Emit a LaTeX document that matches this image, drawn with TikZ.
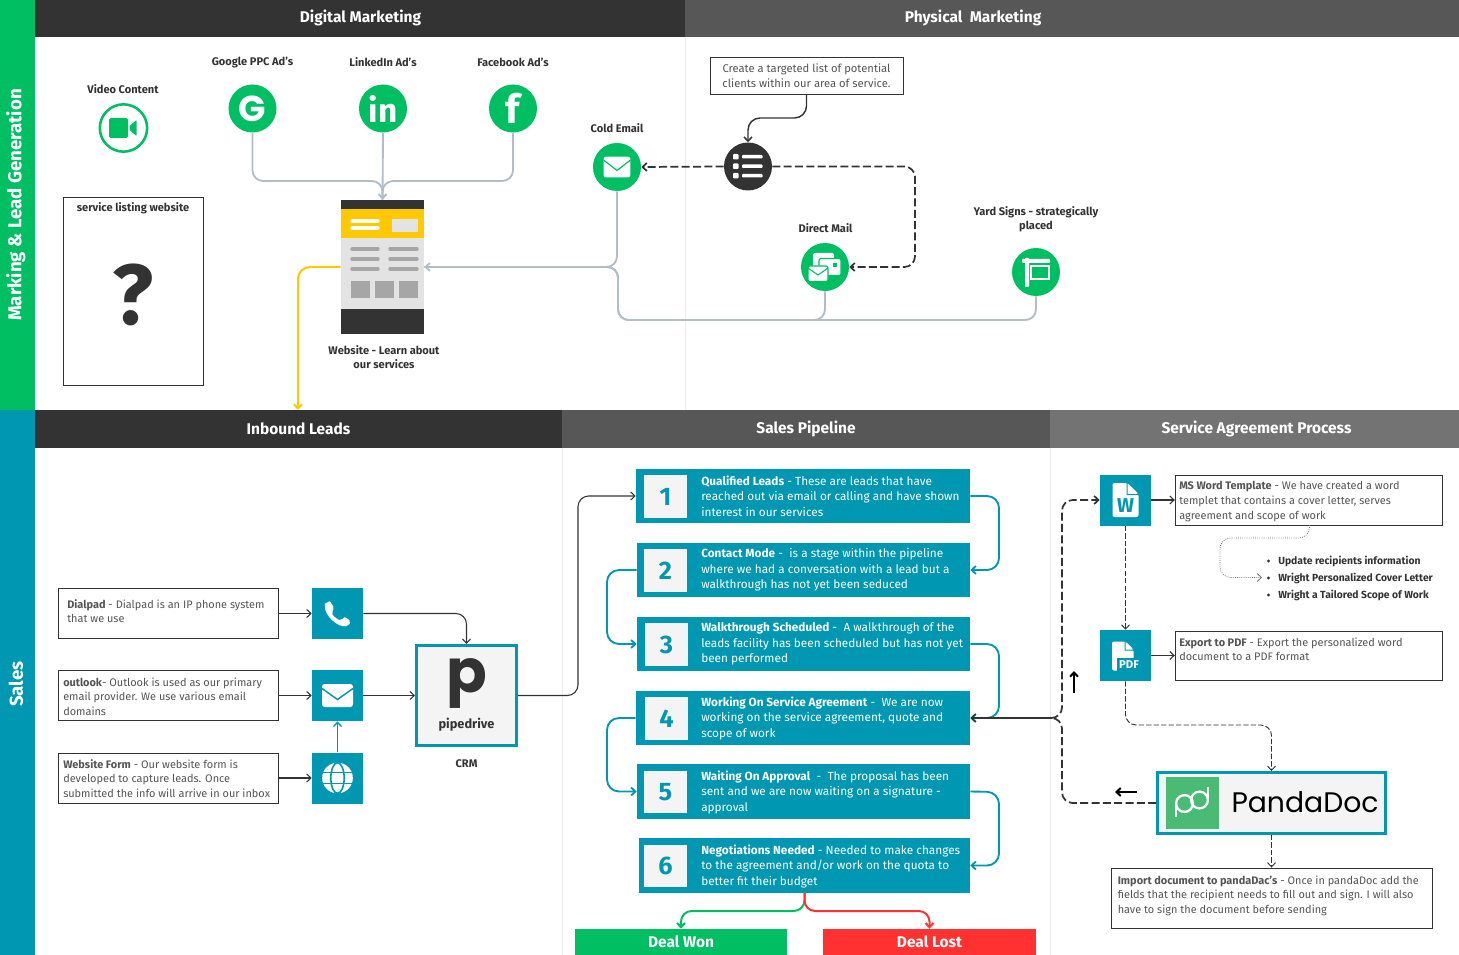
\documentclass[tikz,border=0pt]{standalone}
\usepackage{fontspec}
\setmainfont{Fira Sans}
\newfontfamily\logofont{Poppins}
\usetikzlibrary{arrows.meta}
\definecolor{mkgreen}{HTML}{00BF63}
\definecolor{saleteal}{HTML}{0097B2}
\definecolor{darkbar}{HTML}{333333}
\definecolor{midbar}{HTML}{575757}
\definecolor{lightbar}{HTML}{737373}
\definecolor{wireline}{HTML}{B2BDC6}
\definecolor{webyellow}{HTML}{FFC800}
\definecolor{webgrey}{HTML}{E3E3E3}
\definecolor{dealred}{HTML}{FF3131}
\definecolor{softtext}{HTML}{555555}
\definecolor{logogrey}{HTML}{F4F4F4}
\definecolor{pandagreen}{HTML}{4ABB74}
\tikzset{
  >={Straight Barb[length=3.2pt,width=6pt]},
  headtext/.style={text=white, font=\fontsize{11.6}{13}\selectfont\bfseries},
  sidetext/.style={text=white, rotate=90, font=\fontsize{14}{16}\selectfont\bfseries},
  namelabel/.style={text=darkbar, align=center, font=\fontsize{8.3}{10.6}\selectfont\bfseries},
  todolabel/.style={text=darkbar, anchor=west, inner sep=0pt, font=\fontsize{7.75}{10}\selectfont\bfseries},
  greencirc/.style={circle, fill=mkgreen, minimum size=36pt, inner sep=0pt, text=white},
  infobox/.style={draw=darkbar, line width=.7pt, fill=white, inner sep=0pt},
  infotext/.style={text=softtext, anchor=west, align=left, inner sep=0pt, font=\fontsize{8.2}{10.9}\selectfont},
  tealsq/.style={fill=saleteal, minimum size=38.25pt, inner sep=0pt},
  stepbox/.style={fill=saleteal, minimum height=40.5pt, inner sep=0pt},
  steptext/.style={text=white, anchor=west, align=left, inner sep=0pt, font=\fontsize{8.85}{11.6}\selectfont},
  numbox/.style={fill=logogrey, minimum size=32pt, inner sep=0pt, text=saleteal, font=\fontsize{19}{20}\selectfont\bfseries},
  logobox/.style={draw=saleteal, line width=2.25pt, fill=logogrey, inner sep=0pt},
  dealbox/.style={minimum height=19.5pt, inner sep=0pt, text=white, font=\fontsize{11.6}{13}\selectfont\bfseries},
  mockline/.style={draw=black!35, line width=2.6pt, line cap=round},
  wire/.style={draw=wireline, line width=1.4pt, rounded corners=8pt},
  dashwire/.style={draw=darkbar, line width=1.3pt, dash pattern=on 6pt off 2.5pt, rounded corners=8pt},
  thinwire/.style={draw=darkbar, line width=.8pt, rounded corners=8pt},
  thindash/.style={draw=darkbar, line width=.7pt, dash pattern=on 4pt off 1.6pt, rounded corners=8pt},
  tealwire/.style={draw=saleteal, line width=1.4pt, rounded corners=9pt},
}
\begin{document}
\begin{tikzpicture}[x=.75pt, y=-.75pt]
  \useasboundingbox (0,0) rectangle (1459,955);
  % bands and headers
  \fill[mkgreen] (0,0) rectangle (35,410);
  \fill[saleteal] (0,410) rectangle (35,955);
  \fill[darkbar] (35,0) rectangle (685,37);
  \fill[midbar] (685,0) rectangle (1459,37);
  \fill[darkbar] (35,410) rectangle (562,448);
  \fill[midbar] (562,410) rectangle (1050,448);
  \fill[lightbar] (1050,410) rectangle (1459,448);
  \draw[black!8] (685,37) -- (685,410);
  \draw[black!8] (562,448) -- (562,955);
  \draw[black!8] (1050,448) -- (1050,955);
  \node[sidetext] (leadgen) at (16,205) {Marking \& Lead Generation};
  \node[sidetext] (sales) at (16,684) {Sales};
  \node[headtext] (digital) at (360.5,17.5) {Digital Marketing};
  \node[headtext] (physical) at (973,17.5) {Physical\ \ Marketing};
  \node[headtext] (inbound) at (298.5,429) {Inbound Leads};
  \node[headtext] (pipeline) at (806,429) {Sales Pipeline};
  \node[headtext] (agreement) at (1256.5,429) {Service Agreement Process};

  % marketing, top left
  \node[namelabel] (videolab) at (123,89.5) {Video Content};
  \node[namelabel] (googlelab) at (252.5,62.5) {Google PPC Ad’s};
  \node[namelabel] (linkedlab) at (383,62.5) {LinkedIn Ad’s};
  \node[namelabel] (facelab) at (513,62.5) {Facebook Ad’s};
  \node[circle, draw=mkgreen, line width=1.9pt, minimum size=35.5pt, inner sep=0pt] (video) at (123.5,128) {};
  \begin{scope}[shift={(123.5,128)}]
    \fill[mkgreen, rounded corners=1.2pt] (-14.5,-10) rectangle (4.5,10);
    \fill[mkgreen, rounded corners=.6pt] (6,-2) -- (13,-8) -- (13,8) -- (6,2) -- cycle;
  \end{scope}
  \node[greencirc, font=\logofont\fontsize{27}{28}\selectfont\bfseries] (google) at (252.5,108.5) {G};
  \node[greencirc, font=\fontsize{25}{26}\selectfont\bfseries] (linkedin) at (383,108.5) {in};
  \node[greencirc, font=\fontsize{30}{30}\selectfont\bfseries] (facebook) at (513,108.5) {f};

  \node[infobox, minimum width=105pt, minimum height=141pt] (listing) at (133,291) {};
  \node[namelabel] (listinglab) at (133,208) {service listing website};
  \node[text=darkbar, font=\fontsize{64}{64}\selectfont\bfseries] (question) at (133,295) {?};

  % website mock up
  \node[fill=webgrey, minimum width=62.25pt, minimum height=100.5pt, inner sep=0pt] (website) at (382.5,267) {};
  \fill[darkbar] (341,200) rectangle (424,209.5);
  \fill[webyellow] (341,209.5) rectangle (424,238);
  \fill[darkbar] (341,309) rectangle (424,334);
  \fill[webgrey] (392,219) rectangle (418,232);
  \draw[mockline, draw=white] (352,221) -- (378,221);
  \draw[mockline, draw=white] (352,228) -- (378,228);
  \draw[mockline] (352,249) -- (378,249);
  \draw[mockline] (352,259) -- (378,259);
  \draw[mockline] (352,269) -- (378,269);
  \draw[mockline] (390,249) -- (417,249);
  \draw[mockline] (390,259) -- (417,259);
  \draw[mockline] (390,269) -- (417,269);
  \fill[black!35] (351,281) rectangle (370,298);
  \fill[black!35] (374.5,281) rectangle (393.5,298);
  \fill[black!35] (399,281) rectangle (418,298);
  \node[namelabel] (websitelab) at (384,357.5) {Website - Learn about\\our services};

  \coordinate (adjoin) at (382.5,181);
  \draw[wire] (google.south) |- (adjoin) -- (website.north);
  \draw[wire] (facebook.south) |- (adjoin) -- (website.north);
  \draw[wire, ->] (linkedin.south) -- (website.north);
  \coordinate (leadsdrop) at (298,410);
  \draw[draw=webyellow, line width=1.5pt, rounded corners=9pt, ->] (website.west) -| (leadsdrop);

  % marketing, right part
  \node[infobox, minimum width=144.75pt, minimum height=27.75pt, text=softtext, align=center, font=\fontsize{8.4}{10.9}\selectfont] (targeted) at (806.5,75.5) {Create a targeted list of potential\\clients within our area of service.};
  \node[namelabel] (coldlab) at (617,128.5) {Cold Email};
  \node[greencirc] (coldmail) at (617,167) {};
  \begin{scope}[shift={(617,167)}, scale=.87]
    \fill[white, rounded corners=2pt] (-15.5,-12) rectangle (15.5,12);
    \draw[mkgreen, line width=.9pt] (-15.5,-8) -- (0,4) -- (15.5,-8);
  \end{scope}
  \node[greencirc, fill=darkbar] (tasklist) at (748,166.5) {};
  \begin{scope}[shift={(748,166.5)}]
    \fill[white, rounded corners=.6pt] (-15,-12.5) rectangle (-9.5,-7);
    \fill[white, rounded corners=.6pt] (-15,-3) rectangle (-9.5,2.5);
    \fill[white, rounded corners=.6pt] (-15,6.5) rectangle (-9.5,12);
    \fill[white, rounded corners=.6pt] (-6,-11.5) rectangle (14.5,-8);
    \fill[white, rounded corners=.6pt] (-6,-2) rectangle (14.5,1.5);
    \fill[white, rounded corners=.6pt] (-6,7.5) rectangle (14.5,11);
  \end{scope}
  \node[namelabel] (directlab) at (825.5,228.5) {Direct Mail};
  \node[greencirc] (directmail) at (825,267) {};
  \begin{scope}[shift={(825,267)}]
    \fill[white, rounded corners=1.5pt] (-12,-14) rectangle (9,3);
    \draw[mkgreen, fill=white, line width=.8pt, rounded corners=1.5pt] (-6,-8.5) rectangle (16,8.5);
    \fill[mkgreen] (8,-4) rectangle (12,0);
    \draw[mkgreen, fill=white, line width=.8pt, rounded corners=1.5pt] (-17,-1) rectangle (3,14.5);
    \draw[mkgreen, line width=.8pt] (-17,1) -- (-7,8) -- (3,1);
  \end{scope}
  \node[namelabel] (yardlab) at (1036,219.5) {Yard Signs - strategically\\placed};
  \node[greencirc] (yardsign) at (1036,272) {};
  \begin{scope}[shift={(1036,272)}]
    \fill[white, rounded corners=.6pt] (-11,-14) rectangle (-7,15);
    \fill[white, rounded corners=.6pt] (-14,-13) rectangle (14,-9);
    \draw[white, line width=1.1pt] (-5,-6) rectangle (13,7);
  \end{scope}

  \coordinate (targetbend) at (806.5,118);
  \draw[draw=darkbar, line width=1.1pt, rounded corners=9pt, ->] (targeted.south) -- (targetbend) -| (tasklist.north);
  \draw[dashwire, ->] (tasklist.west) -- (coldmail.east);
  \coordinate (dashcorner) at (915,166.5);
  \draw[dashwire, ->] (tasklist.east) -- (dashcorner) |- (directmail.east);
  \coordinate (busup) at (618,267);
  \coordinate (busdown) at (618,320);
  \draw[wire, ->] (coldmail.south) |- (website.east);
  \draw[wire] (directmail.south) |- (busdown) -- (busup) -- (website.east);
  \draw[wire] (yardsign.south) |- (busdown) -- (busup) -- (website.east);

  % inbound leads
  \node[infobox, minimum width=165pt, minimum height=37.5pt] (dialbox) at (168.5,613.5) {};
  \node[infobox, minimum width=165pt, minimum height=37.5pt] (outbox) at (168.5,695.5) {};
  \node[infobox, minimum width=165pt, minimum height=37.5pt] (formbox) at (168.5,778) {};
  \node[infotext] (dialtext) at (67,611) {\textbf{Dialpad} - Dialpad is an IP phone system\\that we use};
  \node[infotext] (outtext) at (63,696.5) {\textbf{outlook}- Outlook is used as our primary\\email provider. We use various email\\domains};
  \node[infotext] (formtext) at (63,778.5) {\textbf{Website Form} - Our website form is\\developed to capture leads. Once\\submitted the info will arrive in our inbox};
  \node[tealsq] (phone) at (337.5,613.5) {};
  \begin{scope}[shift={(337.5,613.5)}]
    \fill[white, rounded corners=1.5pt] (-12.5,-9) -- (-8,-13) -- (-3,-5) -- (-6,-1) .. controls (-4,3) and (0,6) .. (4,7) -- (7,3) -- (13.5,8) -- (10.5,12.5) .. controls (0,14) and (-13,2) .. cycle;
  \end{scope}
  \node[tealsq] (mailsq) at (337.5,695.5) {};
  \begin{scope}[shift={(337.5,695.5)}]
    \fill[white, rounded corners=2pt] (-15.5,-11.5) rectangle (15.5,11.5);
    \draw[saleteal, line width=1.1pt] (-15.5,-7) -- (0,4) -- (15.5,-7);
  \end{scope}
  \node[tealsq] (globe) at (337.5,778) {};
  \begin{scope}[shift={(337.5,778)}]
    \fill[white] (0,0) circle [radius=11.5pt];
    \draw[saleteal, line width=1.2pt] (0,0) ellipse [x radius=5pt, y radius=11.5pt];
    \draw[saleteal, line width=1.1pt] (-15,-5.5) -- (15,-5.5);
    \draw[saleteal, line width=1.1pt] (-15,5.5) -- (15,5.5);
  \end{scope}
  \node[logobox, minimum size=75pt] (pipedrive) at (466.5,695.5) {};
  \node[text=darkbar, font=\logofont\fontsize{45}{45}\selectfont\bfseries] (pipep) at (467,683) {p};
  \node[text=darkbar, font=\fontsize{9.6}{12}\selectfont\bfseries] (pipename) at (466.5,725) {pipedrive};
  \node[namelabel] (crm) at (466.5,764) {CRM};

  \draw[thinwire, ->] (dialbox.east) -- (phone.west);
  \draw[thinwire, ->] (outbox.east) -- (mailsq.west);
  \draw[thinwire, ->] (formbox.east) -- (globe.west);
  \draw[thinwire, ->] (phone.east) -| (pipedrive.north);
  \draw[thinwire, ->] (mailsq.east) -- (pipedrive.west);
  \draw[draw=saleteal, line width=1pt, ->] (globe.north) -- (mailsq.south);

  % sales pipeline
  \node[stepbox, minimum width=250.5pt] (step1) at (803,496) {};
  \node[stepbox, minimum width=249.75pt] (step2) at (803.5,570) {};
  \node[stepbox, minimum width=249.75pt] (step3) at (803.5,644) {};
  \node[stepbox, minimum width=250.5pt] (step4) at (803,718) {};
  \node[stepbox, minimum width=249.75pt, minimum height=41pt] (step5) at (803.5,791.5) {};
  \node[stepbox, minimum width=248.25pt, minimum height=41pt] (step6) at (804.5,865.5) {};
  \node[numbox] (num1) at (665.5,496.5) {1};
  \node[numbox] (num2) at (665.5,570.5) {2};
  \node[numbox] (num3) at (666.5,644.5) {3};
  \node[numbox] (num4) at (666.5,718.5) {4};
  \node[numbox] (num5) at (665.5,792) {5};
  \node[numbox] (num6) at (665.5,866) {6};
  \node[steptext] (text1) at (701,496) {\textbf{Qualified Leads} - These are leads that have\\reached out via email or calling and have shown\\interest in our services};
  \node[steptext] (text2) at (701,570) {\textbf{Contact Mode} -\ \ is a stage within the pipeline\\where we had a conversation with a lead but a\\walkthrough has not yet been seduced};
  \node[steptext] (text3) at (701,644) {\textbf{Walkthrough Scheduled} -\ \ A walkthrough of the\\leads facility has been scheduled but has not yet\\been performed};
  \node[steptext] (text4) at (701,718) {\textbf{Working On Service Agreement} -\ \ We are now\\working on the service agreement, quote and\\scope of work};
  \node[steptext] (text5) at (701,792) {\textbf{Waiting On Approval}\ \ -\ \ The proposal has been\\sent and we are now waiting on a signature -\\approval};
  \node[steptext] (text6) at (701,866) {\textbf{Negotiations Needed} - Needed to make changes\\to the agreement and/or work on the quota to\\better fit their budget};
  \node[dealbox, fill=mkgreen, minimum width=159pt] (won) at (681,942) {Deal Won};
  \node[dealbox, fill=dealred, minimum width=159.75pt] (lost) at (929.5,942) {Deal Lost};

  \coordinate (crmright) at (578,695.5);
  \coordinate (crmup) at (578,496);
  \draw[thinwire, ->] (pipedrive.east) -- (crmright) -- (crmup) -- (step1.west);
  \coordinate (rightA) at (999,496);
  \coordinate (rightB) at (999,644);
  \coordinate (rightC) at (999,792);
  \coordinate (leftA) at (607,570);
  \coordinate (leftB) at (607,718);
  \draw[tealwire, ->] (step1.east) -- (rightA) |- (step2.east);
  \draw[tealwire, ->] (step2.west) -- (leftA) |- (step3.west);
  \draw[tealwire, ->] (step3.east) -- (rightB) |- (step4.east);
  \draw[tealwire, ->] (step4.west) -- (leftB) |- (step5.west);
  \draw[tealwire, ->] (step5.east) -- (rightC) |- (step6.east);
  \coordinate (dealsplit) at (804.5,911);
  \draw[draw=mkgreen, line width=1.5pt, rounded corners=8pt, ->] (step6.south) -- (dealsplit) -| (won.north);
  \draw[draw=dealred, line width=1.5pt, rounded corners=8pt, ->] (step6.south) -- (dealsplit) -| (lost.north);

  % service agreement
  \node[tealsq] (wordsq) at (1125.5,500) {};
  \begin{scope}[shift={(1125.5,500)}]
    \fill[white, rounded corners=1.5pt] (-13,-17) -- (2,-17) -- (13,-6) -- (13,17) -- (-13,17) -- cycle;
    \fill[saleteal] (2,-17) -- (2,-6) -- (13,-6) -- (13,-5) -- (1,-5) -- (1,-17) -- cycle;
    \node[text=saleteal, font=\fontsize{15}{15}\selectfont\bfseries] (wordw) at (0,6) {W};
  \end{scope}
  \node[tealsq] (pdfsq) at (1125.5,655.5) {};
  \begin{scope}[shift={(1125.5,655.5)}]
    \fill[white, rounded corners=1.5pt] (-13.5,-14) -- (0,-14) -- (8,-6) -- (8,15) -- (-13.5,15) -- cycle;
    \fill[saleteal] (0,-14) -- (0,-6) -- (8,-6) -- (8,-5) -- (-1,-5) -- (-1,-14) -- cycle;
    \fill[saleteal] (-9,2) rectangle (14,15.5);
    \node[text=white, font=\fontsize{8.5}{9}\selectfont\bfseries] (pdfword) at (3.5,9) {PDF};
  \end{scope}
  \node[infobox, minimum width=200.6pt, minimum height=37.5pt] (msbox) at (1309,500) {};
  \node[infobox, minimum width=200.6pt, minimum height=36.75pt] (exportbox) at (1309,655.5) {};
  \node[infotext] (mstext) at (1179,501.5) {\textbf{MS Word Template} - We have created a word\\templet that contains a cover letter, serves\\agreement and scope of work};
  \node[infotext] (exporttext) at (1179,649.5) {\textbf{Export to PDF} - Export the personalized word\\document to a PDF format};
  \fill[darkbar] (1268.5,561) circle [radius=1.2pt];
  \fill[darkbar] (1268.5,578) circle [radius=1.2pt];
  \fill[darkbar] (1268.5,595) circle [radius=1.2pt];
  \node[todolabel] (todo1) at (1278,561) {Update recipients information};
  \node[todolabel] (todo2) at (1278,578) {Wright Personalized Cover Letter};
  \node[todolabel] (todo3) at (1278,595) {Wright a Tailored Scope of Work};
  \coordinate (dotstart) at (1309.5,525);
  \coordinate (dotA) at (1309.5,538);
  \coordinate (dotB) at (1220,538);
  \coordinate (dotC) at (1262,577.5);
  \draw[draw=darkbar!70, line width=.6pt, densely dotted, rounded corners=8pt, ->] (dotstart) -- (dotA) -- (dotB) |- (dotC);

  \node[logobox, minimum width=170.75pt, minimum height=45.75pt] (pandadoc) at (1271.5,803) {};
  \fill[pandagreen] (1166,777) rectangle (1219,829);
  \draw[white, line width=1.7pt] (1184.5,803.5) circle [radius=6.3pt];
  \draw[white, line width=1.7pt] (1199.5,800) circle [radius=6.3pt];
  \draw[white, line width=1.7pt] (1176,804) -- (1176,817);
  \draw[white, line width=1.7pt] (1208,800) -- (1208,787);
  \node[text=black, font=\logofont\fontsize{21.2}{24}\selectfont] (pandaname) at (1305,802) {PandaDoc};
  \node[infobox, minimum width=240.75pt, minimum height=45pt] (importbox) at (1271.5,898) {};
  \node[infotext] (importtext) at (1117.5,895.5) {\textbf{Import document to pandaDac’s} - Once in pandaDoc add the\\fields that the recipient needs to fill out and sign. I will also\\have to sign the document before sending};

  \draw[thinwire, ->] (wordsq.east) -- (msbox.west);
  \draw[thinwire, ->] (pdfsq.east) -- (exportbox.west);
  \draw[thindash, ->] (wordsq.south) -- (pdfsq.north);
  \coordinate (pdfdrop) at (1125.5,725);
  \draw[thindash, ->] (pdfsq.south) -- (pdfdrop) -| (pandadoc.north);
  \draw[thindash, ->] (pandadoc.south) -- (importbox.north);
  \coordinate (backjoin) at (1062,718);
  \coordinate (joinstem) at (1052,718);
  \coordinate (backdown) at (1062,803);
  \coordinate (backup) at (1062,500);
  \draw[dashwire] (pandadoc.west) -- (backdown) -- (backjoin) -- (joinstem);
  \draw[dashwire, ->] (joinstem) -- (backjoin) -- (backup) -- (wordsq.west);
  \draw[draw=darkbar, line width=1.1pt, ->] (joinstem) -- (step4.east);
  \coordinate (upfoot) at (1074,693);
  \coordinate (uphead) at (1074,671);
  \coordinate (leftfoot) at (1137,792);
  \coordinate (lefthead) at (1115,792);
  \draw[black, line width=1.5pt, ->] (upfoot) -- (uphead);
  \draw[black, line width=1.5pt, ->] (leftfoot) -- (lefthead);
\end{tikzpicture}
\end{document}
